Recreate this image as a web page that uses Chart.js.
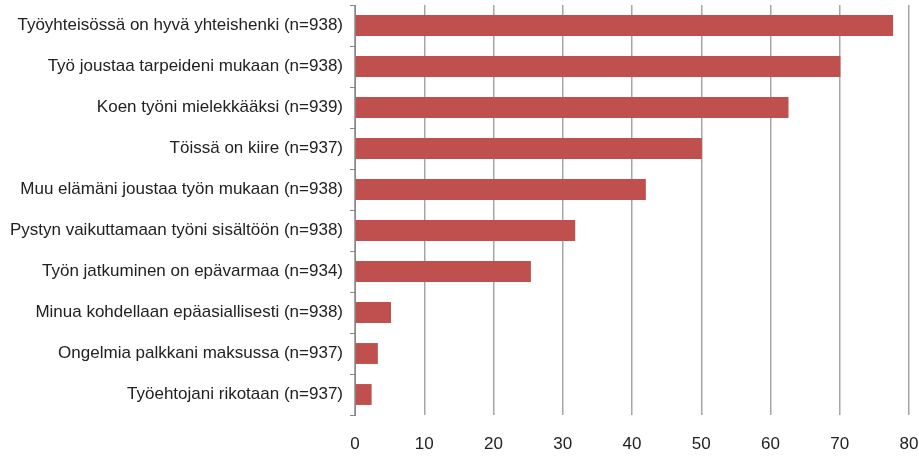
<!DOCTYPE html>
<html lang="fi">
<head>
  <meta charset="UTF-8">
  <title>Työolot</title>
  <script src="https://cdn.jsdelivr.net/npm/chart.js"></script>
  <style>
    html, body { margin: 0; padding: 0; background: #fff; }
    #wrap { width: 919px; height: 457px; }
  </style>
</head>
<body>
  <div id="wrap"><canvas id="chart" width="919" height="457"></canvas></div>

  <script>
    const labels = [
      'Työyhteisössä on hyvä yhteishenki (n=938)',
      'Työ joustaa tarpeideni mukaan (n=938)',
      'Koen työni mielekkääksi (n=939)',
      'Töissä on kiire (n=937)',
      'Muu elämäni joustaa työn mukaan (n=938)',
      'Pystyn vaikuttamaan työni sisältöön (n=938)',
      'Työn jatkuminen on epävarmaa (n=934)',
      'Minua kohdellaan epäasiallisesti (n=938)',
      'Ongelmia palkkani maksussa (n=937)',
      'Työehtojani rikotaan (n=937)'
    ];
    const values = [77.7, 70.1, 62.6, 50.1, 42.0, 31.8, 25.4, 5.2, 3.3, 2.4];
    const xTicks = [0, 10, 20, 30, 40, 50, 60, 70, 80];

    const font = { family: "'Liberation Sans', Arial, sans-serif", size: 17 };

    // drop the extra room Chart.js keeps for half labels at the edges
    function noEdgePad(s) {
      s.paddingLeft = 0; s.paddingRight = 0; s.paddingTop = 0; s.paddingBottom = 0;
    }

    const ctx = document.getElementById('chart').getContext('2d');
    const chart = new Chart(ctx, {
      type: 'bar',
      data: {
        labels: labels,
        datasets: [{
          data: values,
          backgroundColor: 'rgb(192, 80, 77)',
          borderWidth: 0,
          categoryPercentage: 0.51,
          barPercentage: 1.0
        }]
      },
      options: {
        indexAxis: 'y',
        responsive: false,
        animation: false,
        layout: { padding: { top: 5, right: 10, bottom: 0, left: 0 } },
        plugins: { legend: { display: false }, tooltip: { enabled: false } },
        scales: {
          x: {
            min: 0,
            max: 80,
            afterBuildTicks: (s) => { s.ticks = xTicks.map(v => ({ value: v })); },
            afterFit: (s) => { s.height = 42; noEdgePad(s); },
            grid: { color: '#a6a6a6', lineWidth: 1.5, drawTicks: false },
            border: { display: false },
            ticks: { color: '#222', font: font, padding: 19, maxRotation: 0 }
          },
          y: {
            afterFit: (s) => { s.width = 355; noEdgePad(s); },
            grid: { drawOnChartArea: false, drawTicks: true, tickLength: 5, offset: true, color: '#888' },
            border: { display: true, color: '#888', width: 1 },
            ticks: { color: '#222', font: font, padding: 7 }
          }
        }
      }
    });
  </script>
</body>
</html>
